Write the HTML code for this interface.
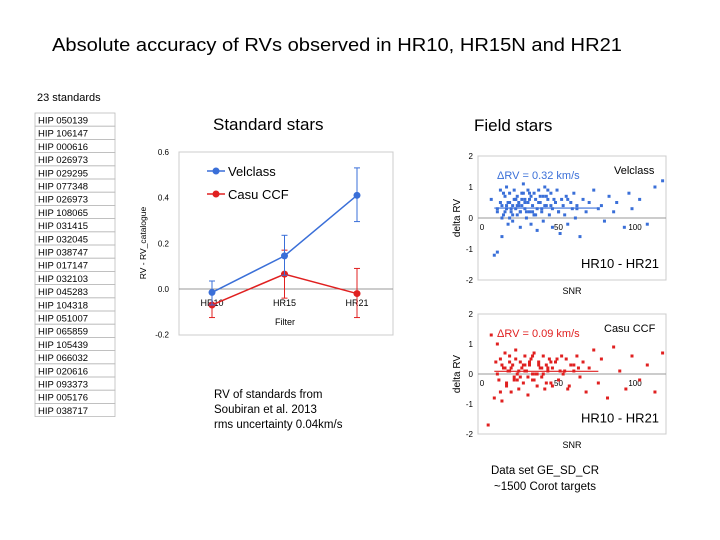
<!DOCTYPE html>
<html><head><meta charset="utf-8"><style>
body{margin:0;background:#fff;width:720px;height:540px;overflow:hidden;font-family:"Liberation Sans",Arial,sans-serif}
svg{position:absolute;left:0;top:0}
</style></head><body>
<svg id="s" width="720" height="540" xmlns="http://www.w3.org/2000/svg" font-family="Liberation Sans, Arial, sans-serif">
<text x="52" y="51" font-size="18" textLength="570" lengthAdjust="spacingAndGlyphs">Absolute accuracy of RVs observed in HR10, HR15N and HR21</text>
<text x="37" y="101" font-size="11">23 standards</text>
<g id="tbl"></g>
<text x="213" y="130" font-size="17">Standard stars</text>
<text x="474" y="131" font-size="17">Field stars</text>
<g id="lc"></g>
<g id="sc1"></g>
<g id="sc2"></g>
<text font-size="11.5"><tspan x="214" y="398">RV of standards from</tspan><tspan x="214" y="413">Soubiran et al. 2013</tspan><tspan x="214" y="428">rms uncertainty 0.04km/s</tspan></text>
<text font-size="11.5" text-anchor="middle"><tspan x="545" y="474">Data set GE_SD_CR</tspan><tspan x="545" y="490">~1500 Corot targets</tspan></text>
</svg>
<script>
const NS='http://www.w3.org/2000/svg';
function mk(p,t,a,txt){const e=document.createElementNS(NS,t);for(const k in a)e.setAttribute(k,a[k]);if(txt!==undefined)e.textContent=txt;p.appendChild(e);return e;}
// table
const stars=["HIP 050139","HIP 106147","HIP 000616","HIP 026973","HIP 029295","HIP 077348","HIP 026973","HIP 108065","HIP 031415","HIP 032045","HIP 038747","HIP 017147","HIP 032103","HIP 045283","HIP 104318","HIP 051007","HIP 065859","HIP 105439","HIP 066032","HIP 020616","HIP 093373","HIP 005176","HIP 038717"];
const tbl=document.getElementById('tbl');
const rh=13.2;
stars.forEach((s,i)=>{const y=113+i*rh;
 const r=mk(tbl,'rect',{x:35,y:y,width:80,height:rh,fill:'none',stroke:'#bbb','stroke-width':0.8});
 
 const t=mk(tbl,'text',{x:38,y:y+10.5,'font-size':9.5},s);
 });
// line chart data
const filters=["HR10","HR15","HR21"];
const velclass=[-0.015,0.145,0.41];
const velLo=[-0.07,0.06,0.295];
const velHi=[0.035,0.235,0.53];
const casu=[-0.07,0.065,-0.02];
const casuLo=[-0.125,-0.04,-0.125];
const casuHi=[-0.015,0.17,0.09];
const yTicks=[0.6,0.4,0.2,0.0,-0.2];
const lc=document.getElementById('lc');
const X=i=>212+i*72.5, Y=v=>289-v*228.5;
mk(lc,'rect',{x:179,y:152,width:214,height:183,fill:'none',stroke:'#ccc'});
yTicks.forEach(v=>{const t=mk(lc,'text',{x:169,y:Y(v)+3,'font-size':8,'text-anchor':'end'},v.toFixed(1));});
mk(lc,'line',{x1:179,x2:393,y1:Y(0),y2:Y(0),stroke:'#999'});
filters.forEach((f,i)=>{const t=mk(lc,'text',{x:X(i),y:Y(0)+17,'font-size':9,'text-anchor':'middle'},f);});
let t=mk(lc,'text',{x:285,y:325,'font-size':9,'text-anchor':'middle'},'Filter');
t=mk(lc,'text',{x:0,y:0,'font-size':8.5,'text-anchor':'middle',transform:'translate(146,243) rotate(-90)'},'RV - RV_catalogue');
function series(vals,lo,hi,col,name){
 const g=mk(lc,'g',{});
 vals.forEach((v,i)=>{mk(g,'line',{x1:X(i),x2:X(i),y1:Y(lo[i]),y2:Y(hi[i]),stroke:col});
  mk(g,'line',{x1:X(i)-3,x2:X(i)+3,y1:Y(lo[i]),y2:Y(lo[i]),stroke:col});mk(g,'line',{x1:X(i)-3,x2:X(i)+3,y1:Y(hi[i]),y2:Y(hi[i]),stroke:col});});
 mk(g,'polyline',{points:vals.map((v,i)=>X(i)+','+Y(v)).join(' '),fill:'none',stroke:col,'stroke-width':1.5});
 vals.forEach((v,i)=>{const c=mk(g,'circle',{cx:X(i),cy:Y(v),r:3.5,fill:col});});
}
series(casu,casuLo,casuHi,'#e02020','casu-ccf');
series(velclass,velLo,velHi,'#3a6fd8','velclass');
[['Velclass','#3a6fd8',171],['Casu CCF','#e02020',194]].forEach(([n,c,y])=>{const g=mk(lc,'g',{});
 mk(g,'line',{x1:207,x2:225,y1:y,y2:y,stroke:c,'stroke-width':1.5});mk(g,'circle',{cx:216,cy:y,r:3.5,fill:c});mk(g,'text',{x:228,y:y+5,'font-size':13},n);});
// scatter data [snr, dRV]
const velSNR=[8,10,12,12,14,15,15,16,17,18,18,19,20,20,21,22,22,23,24,24,25,25,26,27,27,28,28,29,30,30,31,32,32,33,34,34,35,36,36,37,38,38,39,40,41,42,42,43,44,45,46,47,48,48,50,51,52,53,54,55,56,57,58,60,61,62,63,64,66,68,70,72,75,78,80,82,85,88,90,95,98,100,105,110,115,120,14,17,20,23,26,29,31,33,36,39,41,44,47,52,58,64,12,16,19,22,25,28,35,40,45,15,18,21,24,27,30,33,37,43,49,55];
const velRV=[0.6,-1.2,0.2,-1.1,0.9,0.4,-0.6,0.1,0.7,0.3,1.0,-0.2,0.5,0.8,0.2,0.4,-0.1,0.9,0.3,0.6,0.1,0.7,0.5,-0.3,0.2,0.8,0.4,1.1,0.3,0.6,0.0,0.5,0.9,0.2,0.7,-0.2,0.4,0.8,0.1,0.6,0.3,-0.4,0.9,0.5,0.2,0.7,-0.1,1.0,0.4,0.6,0.1,0.8,-0.3,0.3,0.5,0.9,0.2,-0.5,0.6,0.4,0.1,0.7,-0.2,0.5,0.3,0.8,0.0,0.4,-0.6,0.6,0.2,0.5,0.9,0.3,0.4,-0.1,0.7,0.2,0.5,-0.3,0.8,0.3,0.6,-0.2,1.0,1.2,0.5,0.2,0.0,0.6,0.4,0.8,0.2,0.6,0.1,0.5,0.3,0.7,0.4,0.2,0.6,0.3,0.3,0.8,0.5,0.1,0.4,0.6,0.2,0.7,0.9,0.0,0.4,0.3,0.6,0.2,0.5,0.8,0.1,0.4,0.6];
const casuSNR=[6,8,10,11,12,13,14,15,16,17,18,19,20,21,22,23,24,25,26,27,28,29,30,31,32,33,34,35,36,37,38,39,40,41,42,43,44,45,46,47,48,50,52,54,55,57,59,60,62,64,66,68,70,72,75,78,80,84,88,92,96,100,105,110,115,120,12,15,18,21,24,27,30,33,36,39,42,45,48,51,56,62,14,17,20,23,26,29,32,35,38,41,44,47,53,58,65,20,25,30,35,40];
const casuRV=[-1.7,1.3,-0.8,0.4,1.0,-0.2,0.5,-0.9,0.2,0.7,-0.4,0.1,0.6,-0.6,0.3,-0.1,0.8,0.0,-0.5,0.4,0.2,-0.3,0.6,0.1,-0.7,0.3,0.5,-0.2,0.7,0.0,-0.4,0.4,0.2,-0.1,0.6,-0.5,0.3,0.1,0.5,-0.3,0.2,0.4,-0.2,0.6,0.0,0.5,-0.4,0.3,0.1,0.6,-0.1,0.4,-0.6,0.2,0.8,-0.3,0.5,-0.8,0.9,0.1,-0.5,0.6,-0.2,0.3,-0.6,0.7,0.0,0.3,-0.3,0.2,0.5,-0.1,0.1,0.4,-0.2,0.3,0.0,0.2,-0.4,0.5,0.1,0.3,-0.6,0.2,0.4,-0.2,0.1,0.3,-0.1,0.6,0.0,0.2,-0.3,0.4,0.1,-0.5,0.2,0.1,-0.2,0.3,0.0];
const scTicksX=[0,50,100], scTicksY=[2,1,0,-1,-2];
function scatter(id,y0,ppy,xs,ys,col,mean,label,top){
 const g=document.getElementById(id);const SX=v=>479+v*1.53, SY=v=>y0-v*ppy;
 mk(g,'rect',{x:478,y:SY(2),width:188,height:4*ppy,fill:'none',stroke:'#ccc'});
 mk(g,'line',{x1:478,x2:666,y1:SY(0),y2:SY(0),stroke:'#999'});
 scTicksY.forEach(v=>{const t=mk(g,'text',{x:473,y:SY(v)+3,'font-size':8,'text-anchor':'end'},v);});
 scTicksX.forEach(v=>{const t=mk(g,'text',{x:SX(v)+3,y:SY(0)+12,'font-size':8,'text-anchor':'middle'},v);});
 xs.forEach((x,i)=>{if(ys[i]===undefined)return;const r=mk(g,'rect',{x:SX(x)-1.5,y:SY(ys[i])-1.5,width:3,height:3,fill:col});});
 const ml=mk(g,'line',{x1:SX(10),x2:SX(78),y1:SY(mean),y2:SY(mean),stroke:col,'stroke-width':1.2});
 let t=mk(g,'text',{x:497,y:SY(2)+23,'font-size':11,fill:col},'\u0394RV = '+mean.toFixed(2)+' km/s');
 t=mk(g,'text',{x:top,y:SY(2)+18,'font-size':11},label);
 t=mk(g,'text',{x:581,y:SY(-1.45)+5,'font-size':13},'HR10 - HR21');
 t=mk(g,'text',{x:572,y:SY(-2)+14,'font-size':9,'text-anchor':'middle'},'SNR');
 t=mk(g,'text',{x:0,y:0,'font-size':10,'text-anchor':'middle',transform:'translate(460,'+SY(0)+') rotate(-90)'},'delta RV');
}
scatter('sc1',218,31,velSNR,velRV,'#3a6fd8',0.32,'Velclass',614);
scatter('sc2',374,30,casuSNR,casuRV,'#e02020',0.09,'Casu CCF',604);
</script>
</body></html>
